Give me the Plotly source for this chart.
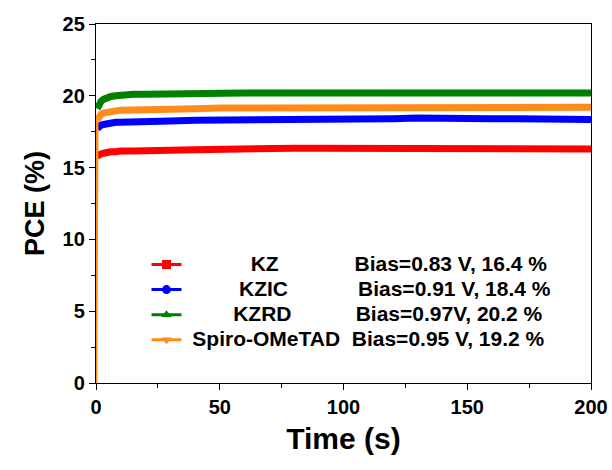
import plotly.graph_objects as go

# Stabilised power output traces at fixed bias
time_s = [0.5, 1, 2, 3, 4, 6, 8, 10, 15, 20, 30, 40, 50, 60, 70, 80, 90, 100,
          110, 120, 130, 140, 150, 160, 170, 180, 190, 200]
pce_kz = [15.8, 15.9, 15.95, 16.0, 16.05, 16.1, 16.1, 16.15, 16.15, 16.2, 16.2, 16.25,
          16.3, 16.3, 16.3, 16.35, 16.35, 16.35, 16.4, 16.35, 16.35, 16.4, 16.35, 16.35,
          16.3, 16.35, 16.3, 16.3]
pce_kzic = [17.7, 17.85, 17.95, 18.0, 18.05, 18.1, 18.15, 18.15, 18.2, 18.25, 18.25, 18.3,
            18.3, 18.35, 18.35, 18.35, 18.4, 18.4, 18.4, 18.4, 18.45, 18.4, 18.4, 18.4,
            18.4, 18.4, 18.35, 18.35]
pce_kzrd = [19.1, 19.4, 19.6, 19.75, 19.85, 19.95, 20.0, 20.05, 20.1, 20.1, 20.15, 20.15,
            20.2, 20.2, 20.2, 20.2, 20.2, 20.25, 20.2, 20.2, 20.25, 20.2, 20.2, 20.25,
            20.2, 20.2, 20.2, 20.2]
time_spiro = [0] + time_s
pce_spiro = [0, 18.3, 18.55, 18.7, 18.8, 18.85, 18.9, 18.95, 19.0, 19.0, 19.05, 19.1, 19.1,
             19.15, 19.15, 19.15, 19.2, 19.2, 19.2, 19.2, 19.2, 19.25, 19.2, 19.2, 19.2,
             19.2, 19.2, 19.2, 19.2]

labels = ["KZ", "KZIC", "KZRD", "Spiro-OMeTAD"]
bias_text = ["Bias=0.83 V, 16.4 %", "Bias=0.91 V, 18.4 %",
             "Bias=0.97V, 20.2 %", "Bias=0.95 V, 19.2 %"]
colors = ["#ff0000", "#0000ff", "#008000", "#ff8c1a"]
symbols = ["square", "circle", "triangle-up", "triangle-down"]
xs = [time_s, time_s, time_s, time_spiro]
ys = [pce_kz, pce_kzic, pce_kzrd, pce_spiro]

FONT = "Arial, Liberation Sans, sans-serif"
LEG_ROW = 17     # legend font size that sets the row pitch
LEG_SIZE = 21    # size of the legend text itself

# Arial Bold advance widths (em) for the legend characters
W = {"K": .722, "Z": .611, "I": .278, "C": .722, "R": .722, "D": .722, "S": .667,
     "p": .611, "i": .278, "r": .389, "o": .611, "-": .333, "O": .778, "M": .833,
     "e": .556, "T": .611, "A": .722, "B": .722, "a": .556, "s": .556, "=": .584,
     ".": .278, ",": .278, " ": .278, "V": .667, "%": .889}
for d in "0123456789":
    W[d] = .556


def text_w(s):
    return sum(W.get(c, .556) for c in s) * LEG_SIZE


SP = W[" "] * LEG_SIZE
TEXT_X0 = 187      # pixel where legend text begins
LABEL_CX = 265     # centre of the name column
BIAS_CX = 453      # centre of the bias column


def legend_name(label, bias):
    n1 = max(0, round((LABEL_CX - TEXT_X0 - text_w(label) / 2) / SP))
    pos = TEXT_X0 + n1 * SP + text_w(label)
    n2 = max(1, round((BIAS_CX - text_w(bias) / 2 - pos) / SP))
    body = "\u00a0" * n1 + label + "\u00a0" * n2 + bias
    return f'<span style="font-size:{LEG_SIZE}px">{body}</span>'


fig = go.Figure()
for x, y, c in zip(xs, ys, colors):
    if x[0] == 0:
        # initial jump at switch-on drawn as a thin rise
        fig.add_trace(go.Scatter(x=x[:2], y=y[:2], mode="lines", showlegend=False,
                                 line=dict(color=c, width=2.5)))
        x, y = x[1:], y[1:]
    fig.add_trace(go.Scatter(x=x, y=y, mode="lines", showlegend=False,
                             line=dict(color=c, width=7)))
for lab, b, c, s in zip(labels, bias_text, colors, symbols):
    fig.add_trace(go.Scatter(x=[None], y=[None], mode="lines+markers",
                             name=legend_name(lab, b),
                             line=dict(color=c, width=3),
                             marker=dict(color=c, symbol=s, size=9)))

axis_common = dict(
    showline=True, linecolor="black", linewidth=1.3, mirror=True,
    ticks="outside", ticklen=6, tickwidth=1.3, tickcolor="black",
    showgrid=False, zeroline=False, layer="below traces", automargin=False,
    tickfont=dict(family=FONT, size=20, color="black", weight="bold"),
    minor=dict(ticks="outside", ticklen=4, tickwidth=1.3, tickcolor="black"),
)

fig.update_layout(
    width=612, height=470,
    margin=dict(l=96, r=21, t=24, b=87),
    paper_bgcolor="white", plot_bgcolor="white",
    font=dict(family=FONT, color="black"),
    xaxis=dict(range=[0, 200], tickvals=[0, 50, 100, 150, 200],
               title=dict(text="<b>Time (s)</b>", font=dict(size=30), standoff=10),
               **axis_common),
    yaxis=dict(range=[0, 25], tickvals=[0, 5, 10, 15, 20, 25],
               title=dict(text="<b>PCE (%)</b>", font=dict(size=27), standoff=10),
               **axis_common),
    legend=dict(x=0.102, y=0.379, xanchor="left", yanchor="top",
                bgcolor="rgba(0,0,0,0)", borderwidth=0,
                font=dict(family=FONT, size=LEG_ROW, color="black", weight="bold"),
                tracegroupgap=0),
)
fig.update_xaxes(minor_tickvals=[25, 75, 125, 175])
fig.update_yaxes(minor_tickvals=[2.5, 7.5, 12.5, 17.5, 22.5])

fig.write_html("out.html")
